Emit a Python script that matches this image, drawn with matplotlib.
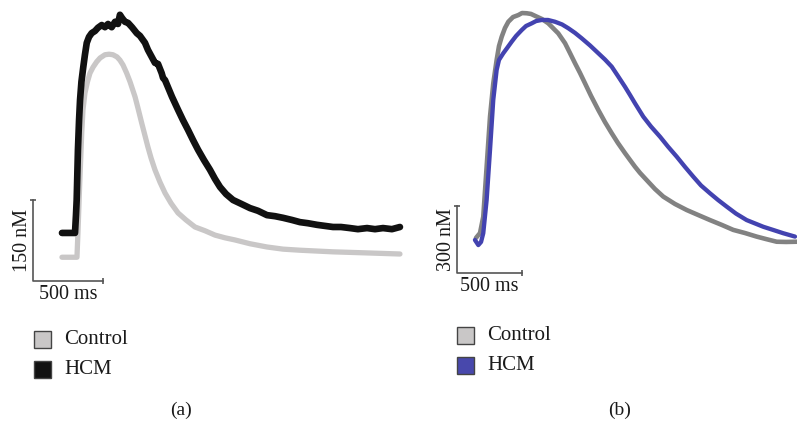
import matplotlib
matplotlib.use("Agg")
import matplotlib.pyplot as plt
from matplotlib.patches import Rectangle

# ---------------- data ----------------
# Panel (a): time (ms), calcium (nM)
a_hcm_t = [207, 300, 307, 312, 321, 329, 336, 346, 359, 371, 384, 400, 419, 443, 464, 491, 514, 536, 562, 586,
           607, 621, 636, 657, 679, 707, 741, 764, 800, 821, 848, 871, 893, 919, 929, 943, 964, 993, 1036,
           1071, 1107, 1143, 1179, 1221, 1264, 1300, 1336, 1379, 1429, 1486, 1550, 1607, 1671, 1729, 1786,
           1850, 1907, 1964, 2029, 2086, 2143, 2200, 2264, 2321, 2386, 2443, 2500, 2564, 2621]
a_hcm_y = [89, 89, 122, 150, 243, 298, 335, 369, 396, 419, 441, 452, 459, 463, 469, 474, 470, 476, 470, 480,
           476, 493, 487, 480, 478, 470, 459, 454, 441, 428, 415, 404, 402, 385, 376, 372, 359, 341, 317,
           298, 280, 261, 243, 224, 206, 189, 174, 161, 150, 143, 135, 130, 122, 120, 117,
           113, 109, 107, 104, 102, 100, 100, 98, 96, 98, 96, 98, 96, 100]
a_ctl_t = [207, 314, 321, 332, 348, 357, 371, 389, 407, 429, 455, 479, 514, 543, 571, 600, 621, 643, 669, 693,
           729, 750, 776, 800, 821, 843, 871, 907, 943, 986, 1036, 1093, 1157, 1229, 1300, 1371, 1443, 1550,
           1671, 1786, 1907, 2143, 2386, 2621]
a_ctl_y = [44, 44, 89, 169, 274, 317, 348, 369, 385, 396, 406, 413, 419, 420, 419, 415, 409, 400, 385, 369,
           341, 320, 293, 269, 248, 228, 206, 183, 163, 144, 126, 113, 100, 93, 85, 80, 76, 69,
           63, 59, 57, 54, 52, 50]

# Panel (b)
b_ctl_t = [146, 177, 202, 228, 254, 279, 305, 323, 344, 369, 395, 431, 472, 500, 536, 569, 613, 654, 702, 738,
           779, 831, 869, 908, 946, 985, 1031, 1087, 1138, 1190, 1238, 1292, 1331, 1369, 1408, 1459, 1523,
           1587, 1677, 1767, 1854, 1946, 2038, 2125, 2215, 2305, 2377, 2459, 2531, 2613]
b_ctl_y = [157, 179, 252, 476, 700, 849, 954, 1016, 1058, 1097, 1125, 1146, 1155, 1164, 1163, 1160, 1148, 1137,
           1118, 1097, 1073, 1029, 985, 939, 896, 849, 793, 730, 676, 626, 582, 537, 506, 476, 448, 416, 376,
           342, 309, 282, 260, 237, 215, 193, 179, 163, 152, 140, 139, 140]
b_hcm_t = [138, 164, 185, 202, 228, 254, 279, 305, 323, 356, 385, 421, 454, 498, 531, 575, 608, 652, 700, 754,
           808, 856, 908, 959, 1023, 1087, 1138, 1190, 1238, 1292, 1331, 1369, 1433, 1492, 1562, 1623, 1690,
           1754, 1818, 1877, 1946, 2008, 2075, 2146, 2228, 2292, 2356, 2431, 2510, 2600]
b_hcm_y = [148, 125, 139, 178, 327, 551, 775, 909, 954, 984, 1007, 1036, 1061, 1088, 1106, 1118, 1128, 1133,
           1133, 1125, 1113, 1096, 1075, 1051, 1019, 984, 956, 924, 882, 834, 797, 760, 700, 656, 610, 566,
           521, 475, 431, 392, 357, 327, 297, 266, 237, 222, 207, 193, 178, 163]

legend_labels = ["Control", "HCM"]
a_colors = ["#c9c7c7", "#111111"]
b_colors = ["#828282", "#4343b0"]
a_legend_colors = ["#c9c7c7", "#111111"]
b_legend_colors = ["#c9c7c7", "#4848ac"]

# ---------------- figure ----------------
W, H = 797, 421
fig = plt.figure(figsize=(W / 100, H / 100), dpi=100)
plt.rcParams['font.family'] = ['Liberation Serif', 'DejaVu Serif']


def px_axes(left, right, top, bottom):
    return fig.add_axes([left / W, 1 - bottom / H, (right - left) / W, (bottom - top) / H])


# Panel a axes: origin at scale bar corner (33, 281); 500 ms = 70 px, 150 nM = 81 px
axa = px_axes(33, 410, 0, 281)
axa.set_xlim(0, (410 - 33) * 500 / 70)
axa.set_ylim(0, 281 * 150 / 81)
axa.axis('off')
axa.plot(a_ctl_t, a_ctl_y, color=a_colors[0], lw=3.8, solid_joinstyle='round', solid_capstyle='round', clip_on=False)
axa.plot(a_hcm_t, a_hcm_y, color=a_colors[1], lw=4.8, solid_joinstyle='round', solid_capstyle='round', clip_on=False)

# Panel b axes: origin (457, 273); 500 ms = 65 px, 300 nM = 67 px
axb = px_axes(457, 797, 0, 273)
axb.set_xlim(0, (797 - 457) * 500 / 65)
axb.set_ylim(0, 273 * 300 / 67)
axb.axis('off')
axb.plot(b_ctl_t, b_ctl_y, color=b_colors[0], lw=3.3, solid_joinstyle='round', solid_capstyle='round', clip_on=False)
axb.plot(b_hcm_t, b_hcm_y, color=b_colors[1], lw=3.1, solid_joinstyle='round', solid_capstyle='round', clip_on=False)


def scale_bar(ax, tlen, ylen, tlab, ylab):
    c = "#555555"
    ax.plot([0, 0, tlen], [ylen, 0, 0], color=c, lw=1.2, clip_on=False)
    ax.plot([0], [ylen], marker='_', ms=5, color=c, mew=1.2, clip_on=False)
    ax.plot([tlen], [0], marker='|', ms=5, color=c, mew=1.2, clip_on=False)
    ax.annotate(tlab, xy=(tlen / 2, 0), xytext=(0, -3), textcoords='offset points',
                ha='center', va='top', fontsize=14.5, color='#1a1a1a', annotation_clip=False)
    ax.annotate(ylab, xy=(0, ylen / 2), xytext=(-0.5, 0), textcoords='offset points',
                ha='right', va='center', rotation=90, fontsize=14.5, color='#1a1a1a', annotation_clip=False)


scale_bar(axa, 500, 150, "500 ms", "150 nM")
scale_bar(axb, 500, 300, "500 ms", "300 nM")


def legend(x0, ys, colors):
    for y, lab, col in zip(ys, legend_labels, colors):
        s = 17
        fig.add_artist(Rectangle((x0 / W, 1 - (y + s / 2) / H), s / W, s / H, transform=fig.transFigure,
                                 facecolor=col, edgecolor='#444444', lw=1.0))
        fig.text((x0 + 30) / W, 1 - y / H, lab, ha='left', va='center', fontsize=15, color='#1a1a1a')


legend(34, [339, 369], a_legend_colors)
legend(457, [335, 365], b_legend_colors)

fig.text(181 / W, 1 - 410 / H, "(a)", ha='center', va='center', fontsize=14, color='#1a1a1a')
fig.text(620 / W, 1 - 410 / H, "(b)", ha='center', va='center', fontsize=14, color='#1a1a1a')

fig.savefig("out.png", dpi=100, facecolor='white')
